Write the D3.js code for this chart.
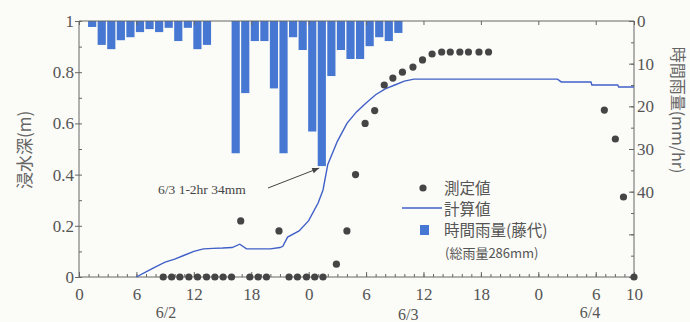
<!DOCTYPE html>
<html><head><meta charset="utf-8">
<script src="https://cdn.jsdelivr.net/npm/d3@7/dist/d3.min.js"></script>
<style>
html,body{margin:0;padding:0;background:#fbfbf7;}
svg{display:block;}
</style></head>
<body>
<script>
// ---- data ----
// hourly rainfall (mm/hr); index = start hour since 6/2 0:00
const rainHours = [1,2,3,4,5,6,7,8,9,10,11,12,13, 16,17,18,19,20,21,22,23,24,25,26,27,28,29,30,31,32,33];
const rainValues = [1.4,5.6,6.6,4.5,3.8,2.6,1.9,2.6,1.6,4.7,1.6,6.6,5.6,
  31,16.9,4.7,4.7,15.8,31,3.8,6.8,25.9,34,12.9,6.8,8.9,8.9,5.9,3.8,4.7,2.8];
// computed depth (m)
const calcHours = [6,7,8,9,10,11,12,13,14,15,16,16.8,17.5,18,19,20,21,21.3,21.8,23,24,25,25.5,26,27,28,29,30,31,32,33,34,35,40,45,50,50.4,53.5,53.6,56.3,56.4,58];
const calcValues = [0,0.02,0.04,0.058,0.07,0.085,0.1,0.11,0.112,0.113,0.115,0.128,0.11,0.11,0.11,0.11,0.115,0.12,0.156,0.18,0.22,0.29,0.34,0.44,0.53,0.6,0.645,0.68,0.712,0.735,0.75,0.765,0.773,0.773,0.773,0.773,0.762,0.762,0.75,0.75,0.742,0.742];
// measured depth (m)
const obsHours = [8.8,9.68,10.54,11.48,12.39,13.33,14.2,15.06,15.94,16.9,17.85,18.72,19.59,20.9,21.95,22.83,23.77,24.63,25.5,
  26.9,28,28.9,29.9,30.9,31.9,32.8,33.8,34.9,35.9,36.9,37.9,38.8,39.8,40.7,41.8,42.8,54.9,56.05,56.9,58];
const obsValues = [0,0,0,0,0,0,0,0,0,0.219,0,0,0,0.18,0,0,0,0,0,
  0.05,0.18,0.4,0.6,0.65,0.75,0.777,0.8,0.82,0.848,0.871,0.879,0.879,0.879,0.879,0.879,0.879,0.652,0.539,0.3125,0];
// axis ticks
const xTickHours = [0,6,12,18,24,30,36,42,48,54,58];
const xTickLabels = ["0","6","12","18","0","6","12","18","0","6","10"];
const dateLabels = ["6/2","6/3","6/4"];
const dateHours = [9.1,34.4,53.4];
const yLeftTicks = [0,0.2,0.4,0.6,0.8,1];
const yRightTicks = [0,10,20,30,40];
const legendLabels = ["測定値","計算値","時間雨量(藤代)"];
const legendNote = "(総雨量286mm)";
const annotation = "6/3 1-2hr 34mm";

// ---- chart ----
const W = 690, H = 322;
const svg = d3.select("body").append("svg").attr("width", W).attr("height", H);
svg.append("rect").attr("width", W).attr("height", H).attr("fill", "#fbfbf7");

const L = 79, R = 634, T = 21, B = 277;
const x = d3.scaleLinear().domain([0,58]).range([L,R]);
const yL = d3.scaleLinear().domain([0,1]).range([B,T]);
const yR = d3.scaleLinear().domain([0,60]).range([T,B]);

const axisColor = "#666", textColor = "#555";
const serif = "'Liberation Serif','Times New Roman','DejaVu Serif',serif";
const cjk = "'Noto Sans CJK JP','Noto Sans',sans-serif";

// bars
const barColor = "#4677d2";
svg.append("g").selectAll("rect").data(rainHours).join("rect")
  .attr("x", (h) => x(h) - 0.5)
  .attr("y", yR(0))
  .attr("width", (x(1) - x(0)) - 1.4)
  .attr("height", (h,i) => yR(rainValues[i]) - yR(0))
  .attr("fill", barColor);

// frame lines
const g = svg.append("g").attr("stroke", axisColor).attr("fill","none").attr("stroke-width",1);
g.append("line").attr("x1",L).attr("x2",R).attr("y1",B).attr("y2",B);
g.append("line").attr("x1",L).attr("x2",R).attr("y1",T).attr("y2",T);
g.append("line").attr("x1",L).attr("x2",L).attr("y1",T).attr("y2",B);
g.append("line").attr("x1",R).attr("x2",R).attr("y1",T).attr("y2",B);

function styleTicks(sel) {
  sel.select(".domain").remove();
  sel.selectAll("line").attr("stroke", axisColor);
  sel.selectAll("text").style("font-family", serif).style("font-size", "17px").attr("fill", textColor);
}

// bottom axis
const xAx = svg.append("g").attr("transform",`translate(0,${B})`)
  .call(d3.axisBottom(x).tickValues(d3.range(0,59,1)).tickSize(-3).tickFormat(""));
styleTicks(xAx);
const xAx2 = svg.append("g").attr("transform",`translate(0,${B})`)
  .call(d3.axisBottom(x).tickValues(xTickHours).tickSize(-5).tickPadding(11)
    .tickFormat((d,i) => xTickLabels[i]));
styleTicks(xAx2);

// top ticks
const xTop = svg.append("g").attr("transform",`translate(0,${T})`)
  .call(d3.axisTop(x).tickValues(xTickHours).tickSize(-4).tickFormat(""));
styleTicks(xTop);

// date labels
svg.append("g").selectAll("text").data(dateLabels).join("text")
  .attr("x", (d,i) => x(dateHours[i]))
  .attr("y", (d,i) => i === 1 ? 320 : 318)
  .attr("text-anchor","middle")
  .style("font-family", serif).style("font-size", "16px").attr("fill", textColor)
  .text(d => d);

// left axis
const yLm = svg.append("g").attr("transform",`translate(${L},0)`)
  .call(d3.axisLeft(yL).tickValues(d3.range(0,1.01,0.1)).tickSize(-3).tickFormat(""));
styleTicks(yLm);
const yLa = svg.append("g").attr("transform",`translate(${L},0)`)
  .call(d3.axisLeft(yL).tickValues(yLeftTicks).tickSize(4).tickPadding(1)
    .tickFormat(d => (d === 0 || d === 1) ? String(d) : d.toFixed(1)));
styleTicks(yLa);

// right axis
const yRm = svg.append("g").attr("transform",`translate(${R},0)`)
  .call(d3.axisRight(yR).tickValues(d3.range(0,61,5)).tickSize(-3).tickFormat(""));
styleTicks(yRm);
const yRa = svg.append("g").attr("transform",`translate(${R},0)`)
  .call(d3.axisRight(yR).tickValues(d3.range(0,61,10)).tickSize(-5).tickPadding(3)
    .tickFormat(d => yRightTicks.includes(d) ? String(d) : ""));
styleTicks(yRa);

// axis titles
svg.append("text").attr("transform","translate(23,150) rotate(-90)")
  .attr("text-anchor","middle").attr("dominant-baseline","central")
  .style("font-family", cjk).style("font-size", "17px")
  .attr("fill", "#666").text("浸水深(m)");
svg.append("text").attr("transform","translate(679,110) rotate(90)")
  .attr("text-anchor","middle").attr("dominant-baseline","central")
  .style("font-family", cjk).style("font-size", "16px")
  .attr("fill", "#666").text("時間雨量(mm/hr)");

// computed line
const lineColor = "#4060c8";
svg.append("path").datum(calcHours.map((h,i)=>[h,calcValues[i]]))
  .attr("fill","none").attr("stroke", lineColor).attr("stroke-width",1.4)
  .attr("d", d3.line().x(d=>x(d[0])).y(d=>yL(d[1])));

// measured points
svg.append("g").selectAll("circle").data(obsHours).join("circle")
  .attr("cx", h => x(h)).attr("cy", (h,i) => yL(obsValues[i]))
  .attr("r", 3.6).attr("fill", "#454545");

// annotation
svg.append("defs").append("marker").attr("id","arr").attr("viewBox","0 0 10 10")
  .attr("refX",10).attr("refY",5).attr("markerWidth",9).attr("markerHeight",7)
  .attr("orient","auto").append("path").attr("d","M0,1 L10,5 L0,9 Z").attr("fill","#444");
svg.append("text").attr("x",158).attr("y",194).style("font-family", serif)
  .style("font-size","13.5px").attr("fill","#444").text(annotation);
svg.append("line").attr("x1",268).attr("y1",188).attr("x2",x(25)+1).attr("y2",yR(34)+2)
  .attr("stroke","#444").attr("stroke-width",1).attr("marker-end","url(#arr)");

// legend
const lx = 444;
svg.append("circle").attr("cx",423).attr("cy",188).attr("r",3.6).attr("fill","#454545");
svg.append("line").attr("x1",402).attr("x2",442).attr("y1",208).attr("y2",208)
  .attr("stroke",lineColor).attr("stroke-width",1.4);
svg.append("rect").attr("x",420).attr("y",225).attr("width",9).attr("height",10).attr("fill",barColor);
svg.append("g").selectAll("text").data(legendLabels).join("text")
  .attr("x", lx).attr("y", (d,i) => [187,208,229][i])
  .attr("dominant-baseline","central")
  .style("font-family", cjk).style("font-size", "15.5px").attr("fill", textColor)
  .text(d => d);
svg.append("text").attr("x",445).attr("y",252).attr("dominant-baseline","central")
  .style("font-family", cjk).style("font-size","13px").attr("fill",textColor).text(legendNote);
</script>
</body></html>
